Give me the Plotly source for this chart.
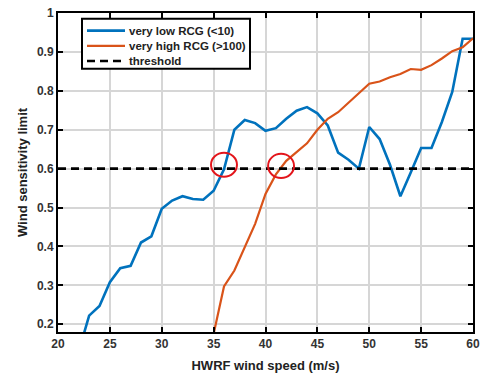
import plotly.graph_objects as go

# HWRF wind speed (m/s)
wind_low = list(range(22, 61))
# Wind sensitivity limit, very low RCG (<10)
limit_low = [0.13, 0.222, 0.247, 0.308, 0.344, 0.350, 0.410, 0.426, 0.497, 0.518,
             0.529, 0.522, 0.520, 0.543, 0.598, 0.700, 0.725, 0.717, 0.697, 0.704,
             0.728, 0.749, 0.758, 0.742, 0.711, 0.641, 0.623, 0.600, 0.707, 0.676,
             0.610, 0.529, 0.590, 0.653, 0.653, 0.720, 0.797, 0.934, 0.934]

wind_high = list(range(35, 61))
# Wind sensitivity limit, very high RCG (>100)
limit_high = [0.175, 0.297, 0.338, 0.400, 0.458, 0.535, 0.585, 0.620, 0.642, 0.665,
              0.700, 0.728, 0.745, 0.770, 0.795, 0.818, 0.824, 0.835, 0.843, 0.856,
              0.854, 0.866, 0.883, 0.902, 0.912, 0.935]

threshold_x = [20, 60]
threshold = 0.6

# Points where each curve crosses the threshold
crossings = [(36.0, 0.610), (41.5, 0.607)]

x_ticks = [20, 25, 30, 35, 40, 45, 50, 55, 60]
y_ticks = [0.2, 0.3, 0.4, 0.5, 0.6, 0.7, 0.8, 0.9, 1.0]
y_ticklabels = ["0.2", "0.3", "0.4", "0.5", "0.6", "0.7", "0.8", "0.9", "1"]

series_names = ["very low RCG (<10)", "very high RCG (>100)", "threshold"]

BLUE = "#0072BD"
ORANGE = "#D95319"
FONT = "Liberation Sans, Arial, sans-serif"

W, H = 488, 379
M_L, M_R, M_T, M_B = 58, 15, 6, 47
PW, PH = W - M_L - M_R, H - M_T - M_B

styles = [dict(color=BLUE, width=2.6),
          dict(color=ORANGE, width=2.2),
          dict(color="black", width=2.6, dash="8px,5px")]

fig = go.Figure()
fig.add_trace(go.Scatter(x=wind_low, y=limit_low, mode="lines",
                         name=series_names[0], line=styles[0], showlegend=False))
fig.add_trace(go.Scatter(x=wind_high, y=limit_high, mode="lines",
                         name=series_names[1], line=styles[1], showlegend=False))
fig.add_trace(go.Scatter(x=threshold_x, y=[threshold] * len(threshold_x), mode="lines",
                         name=series_names[2], line=styles[2], showlegend=False))

for cx, cy in crossings:
    fig.add_shape(type="circle", xref="x", yref="y",
                  x0=cx - 1.25, x1=cx + 1.25, y0=cy - 0.031, y1=cy + 0.031,
                  line=dict(color="#E3151B", width=2))


# Legend box drawn in plot-domain coordinates (pixel offsets converted)
def dx(px):
    return (px - M_L) / PW


def dy(py):
    return 1 - (py - M_T) / PH


fig.add_shape(type="rect", xref="x domain", yref="y domain",
              x0=dx(82), x1=dx(250), y0=dy(63), y1=dy(12),
              fillcolor="white", line=dict(color="black", width=2), layer="above")
for i, (name, st) in enumerate(zip(series_names, styles)):
    row_y = 24 + i * 15.5
    fig.add_shape(type="line", xref="x domain", yref="y domain",
                  x0=dx(87), x1=dx(125), y0=dy(row_y), y1=dy(row_y),
                  line=st, layer="above")
    fig.add_annotation(xref="x domain", yref="y domain", x=dx(127), y=dy(row_y),
                       xanchor="left", yanchor="middle", showarrow=False,
                       text=name,
                       font=dict(family=FONT, size=11.5, color="#222222", weight="bold"))

axis_common = dict(
    showline=True, linewidth=2, linecolor="black", mirror="ticks",
    ticks="inside", ticklen=5, tickwidth=2, tickcolor="black",
    showgrid=True, gridcolor="#d6d6d6", gridwidth=1.5,
    zeroline=False,
    tickfont=dict(family=FONT, size=12, color="#333333", weight="bold"),
)

fig.update_xaxes(range=[20, 60], tickvals=x_ticks,
                 title=dict(text="HWRF wind speed (m/s)", standoff=10,
                            font=dict(family=FONT, size=13, color="#222222", weight="bold")),
                 **axis_common)
fig.update_yaxes(range=[0.18, 1.0], tickvals=y_ticks, ticktext=y_ticklabels,
                 title=dict(text="Wind sensitivity limit", standoff=6,
                            font=dict(family=FONT, size=13, color="#222222", weight="bold")),
                 **axis_common)

fig.update_layout(
    width=W, height=H,
    margin=dict(l=M_L, r=M_R, t=M_T, b=M_B),
    paper_bgcolor="white", plot_bgcolor="white",
    showlegend=False,
)

fig.write_html("out.html")
